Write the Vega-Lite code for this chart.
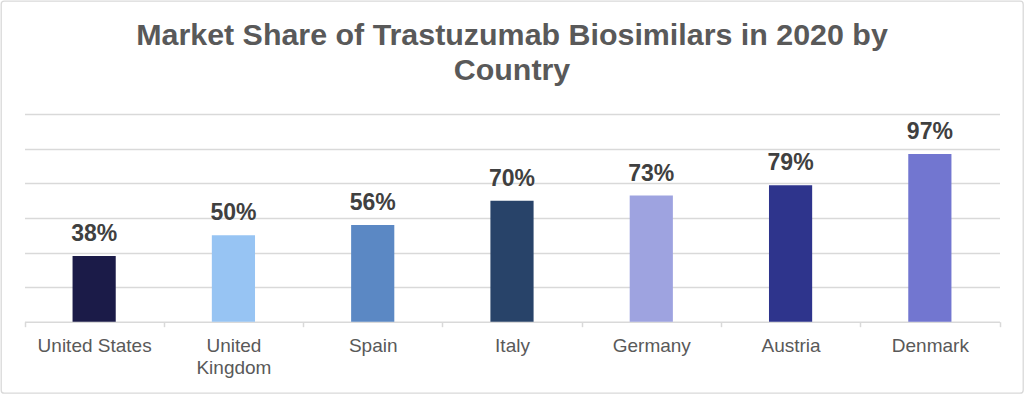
{
  "$schema": "https://vega.github.io/schema/vega-lite/v6.json",
  "width": 1022,
  "height": 392,
  "padding": 1,
  "autosize": "none",
  "background": "white",
  "config": {
    "font": "Liberation Sans",
    "view": {"stroke": "#d9d9d9", "strokeWidth": 1.3, "cornerRadius": 3}
  },
  "title": {
    "text": ["Market Share of Trastuzumab Biosimilars in 2020 by", "Country"],
    "fontSize": 30.4,
    "fontWeight": "bold",
    "color": "#595959",
    "lineHeight": 35,
    "baseline": "alphabetic",
    "offset": -44,
    "dy": 65.5,
    "anchor": "middle",
    "frame": "group"
  },
  "data": {
    "values": [
      {"country": "United States", "share": 0.38},
      {"country": "United Kingdom", "share": 0.50},
      {"country": "Spain", "share": 0.56},
      {"country": "Italy", "share": 0.70},
      {"country": "Germany", "share": 0.73},
      {"country": "Austria", "share": 0.79},
      {"country": "Denmark", "share": 0.97}
    ]
  },
  "encoding": {
    "x": {
      "field": "country",
      "type": "nominal",
      "sort": null,
      "scale": {"range": [23.5, 998.5], "paddingInner": 0, "paddingOuter": 0},
      "axis": {
        "title": null,
        "orient": "bottom",
        "offset": -71.3,
        "tickBand": "extent",
        "tickSize": 5,
        "tickColor": "#d9d9d9",
        "tickWidth": 1.5,
        "domainColor": "#d9d9d9",
        "domainWidth": 1.5,
        "labelAngle": 0,
        "labelFontSize": 19,
        "labelColor": "#595959",
        "labelBaseline": "alphabetic",
        "labelPadding": 25,
        "labelLineHeight": 21.5,
        "labelExpr": "datum.value == 'United Kingdom' ? ['United', 'Kingdom'] : datum.value",
        "grid": false
      }
    },
    "y": {
      "field": "share",
      "type": "quantitative",
      "scale": {"domain": [0, 1.2], "range": [320.7, 113.3], "nice": false},
      "axis": {
        "title": null,
        "values": [0.2, 0.4, 0.6, 0.8, 1.0, 1.2],
        "grid": true,
        "gridColor": "#d9d9d9",
        "gridWidth": 1.5,
        "labels": false,
        "ticks": false,
        "domain": false
      }
    }
  },
  "layer": [
    {
      "mark": {"type": "bar", "width": {"band": 0.31}},
      "encoding": {
        "color": {
          "field": "country",
          "type": "nominal",
          "sort": null,
          "scale": {
            "domain": ["United States", "United Kingdom", "Spain", "Italy", "Germany", "Austria", "Denmark"],
            "range": ["#1b1b48", "#97c4f3", "#5b88c4", "#284369", "#9ea3e0", "#2e348c", "#7276d0"]
          },
          "legend": null
        }
      }
    },
    {
      "mark": {"type": "text", "fontSize": 23, "fontWeight": "bold", "color": "#404040", "baseline": "alphabetic", "dy": -15},
      "encoding": {
        "text": {"field": "share", "type": "quantitative", "format": ".0%"}
      }
    }
  ]
}
